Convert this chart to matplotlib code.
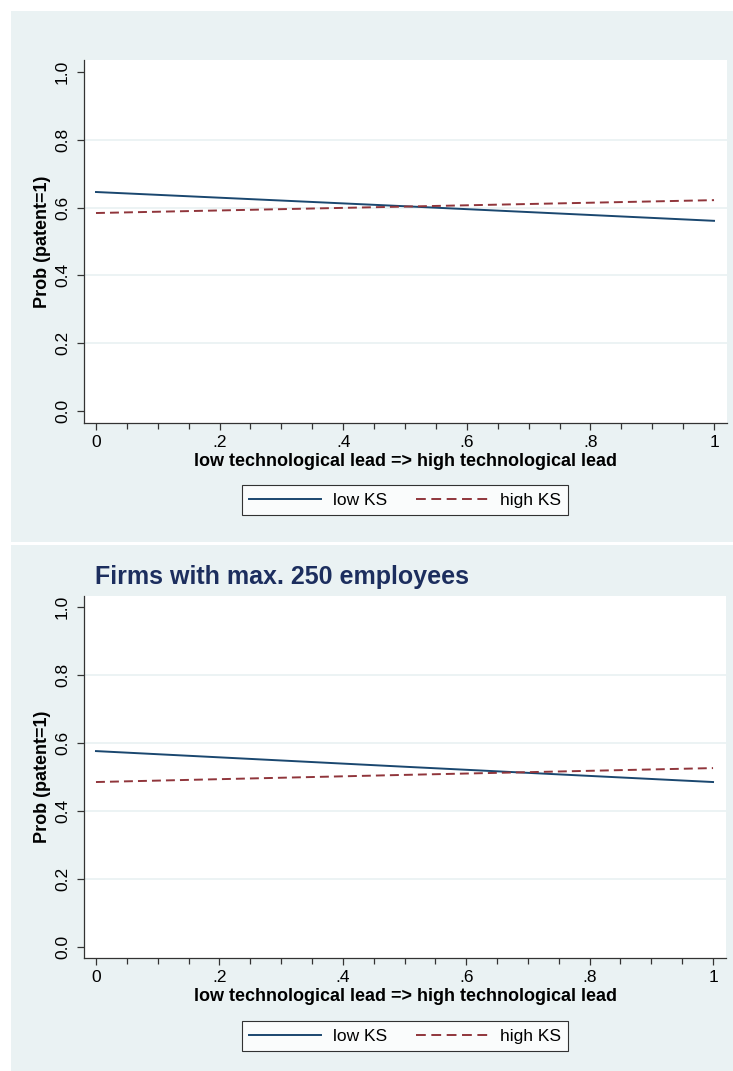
import matplotlib
matplotlib.use("Agg")
import matplotlib.pyplot as plt
from matplotlib.patches import Rectangle
from matplotlib.lines import Line2D
import numpy as np

plt.rcParams['font.family'] = ['Liberation Sans', 'DejaVu Sans']

# ---- data ----
x_vals = [0.0, 0.5, 1.0]
top_low_ks = [0.646, 0.604, 0.561]
top_high_ks = [0.584, 0.603, 0.622]
bot_low_ks = [0.576, 0.530, 0.485]
bot_high_ks = [0.485, 0.506, 0.526]
x_ticks = [0, 0.2, 0.4, 0.6, 0.8, 1.0]
x_ticklabels = ["0", ".2", ".4", ".6", ".8", "1"]
y_ticks = [0.0, 0.2, 0.4, 0.6, 0.8, 1.0]
y_ticklabels = ["0.0", "0.2", "0.4", "0.6", "0.8", "1.0"]
bottom_title = "Firms with max. 250 employees"
xlabel = "low technological lead => high technological lead"
ylabel = "Prob (patent=1)"
series_names = ["low KS", "high KS"]

W, H = 733, 1071
BG = "#eaf2f3"
NAVY = "#1a476f"
MAROON = "#90353b"
AXC = "#333333"

fig = plt.figure(figsize=(W / 100, H / 100), dpi=100)
fig.patch.set_facecolor("white")

def px_rect(x0, y0, x1, y1):
    return [x0 / W, 1 - y1 / H, (x1 - x0) / W, (y1 - y0) / H]

# panel backgrounds
for (x0, y0, x1, y1) in [(11, 11, 733, 542), (11, 545, 733, 1071)]:
    r = px_rect(x0, y0, x1, y1)
    fig.patches.append(Rectangle((r[0], r[1]), r[2], r[3], transform=fig.transFigure,
                                 facecolor=BG, edgecolor="none", zorder=-10))

def setup(ax, low, high, ylim):
    ax.set_facecolor("white")
    for g in [0.2, 0.4, 0.6, 0.8]:
        ax.axhline(g, color=BG, lw=1.3, zorder=0)
    ax.plot(x_vals, low, color=NAVY, lw=1.4, zorder=3)
    ax.plot(x_vals, high, color=MAROON, lw=1.4, linestyle=(0, (4.6, 2.6)), zorder=3)
    ax.set_xlim(-0.0194, 1.021)
    ax.set_ylim(*ylim)
    ax.set_xticks(x_ticks)
    ax.set_xticklabels(x_ticklabels)
    ax.set_xticks(np.arange(0.05, 1.0, 0.05), minor=True)
    ax.set_yticks(y_ticks)
    ax.set_yticklabels(y_ticklabels, rotation=90, va="center")
    for s in ["top", "right"]:
        ax.spines[s].set_visible(False)
    for s in ["left", "bottom"]:
        ax.spines[s].set_color(AXC)
        ax.spines[s].set_linewidth(0.9)
    ax.tick_params(axis="both", which="major", length=5, width=0.9, color=AXC,
                   labelsize=12.5, direction="out")
    ax.tick_params(axis="x", which="minor", length=4.5, width=0.9, color=AXC, direction="out")
    ax.tick_params(axis="x", which="major", pad=3.5)
    ax.tick_params(axis="y", which="major", pad=5)
    ax.set_xlabel(xlabel, fontsize=13, fontweight="bold", labelpad=2.5)
    ax.set_ylabel(ylabel, fontsize=13, fontweight="bold", labelpad=3)

ax1 = fig.add_axes(px_rect(84, 60, 727, 423))
setup(ax1, top_low_ks, top_high_ks, (-0.0354, 1.0354))
ax2 = fig.add_axes(px_rect(84, 596, 726, 958))
setup(ax2, bot_low_ks, bot_high_ks, (-0.0324, 1.032))

fig.text(95 / W, 1 - 577 / H, bottom_title, fontsize=18, fontweight="bold",
         color="#1c2e5e", ha="left", va="center")

handles = [Line2D([], [], color=NAVY, lw=1.4),
           Line2D([], [], color=MAROON, lw=1.4, linestyle=(0, (5.04, 2.85)))]
for cy in [500, 1036]:
    leg = fig.legend(handles, series_names, loc="center",
                     bbox_to_anchor=(405 / W, 1 - cy / H), ncol=2, fontsize=12.5,
                     frameon=True, fancybox=False, edgecolor="black",
                     handlelength=4.1, handletextpad=0.7, columnspacing=1.7,
                     borderpad=0.45)
    leg.get_frame().set_linewidth(0.8)
    leg.get_frame().set_facecolor("white")

fig.savefig("out.png", dpi=100, facecolor="white")
